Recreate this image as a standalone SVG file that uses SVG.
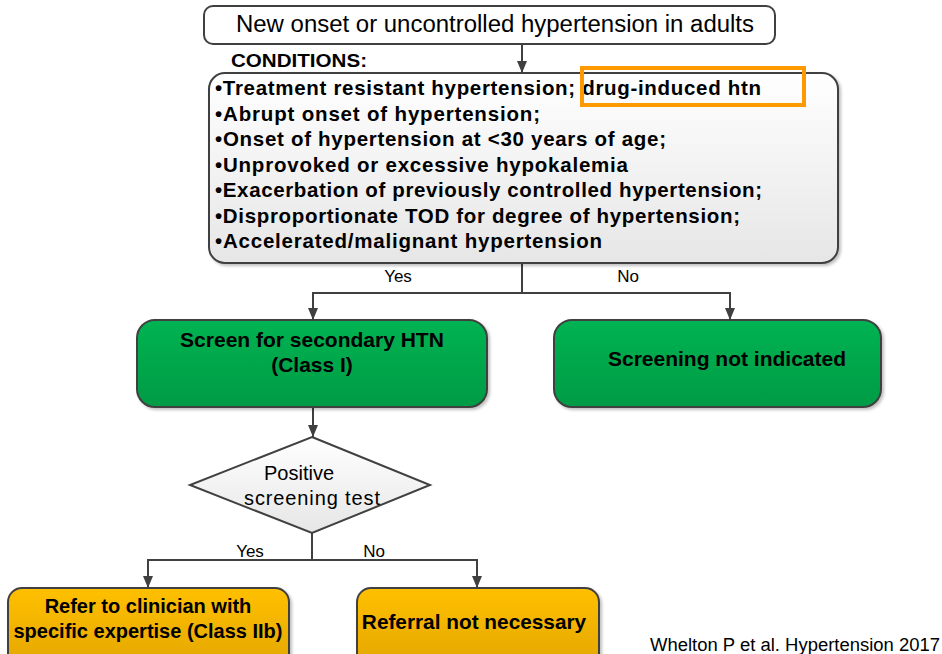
<svg xmlns="http://www.w3.org/2000/svg" width="942" height="654" viewBox="0 0 942 654">
  <defs>
    <linearGradient id="gGreen" x1="0" y1="0" x2="0" y2="1">
      <stop offset="0" stop-color="#00B352"/>
      <stop offset="1" stop-color="#009B45"/>
    </linearGradient>
    <linearGradient id="gOrange" x1="0" y1="0" x2="0" y2="1">
      <stop offset="0" stop-color="#FFC000"/>
      <stop offset="1" stop-color="#E3A600"/>
    </linearGradient>
    <linearGradient id="gGray" x1="0" y1="0" x2="0" y2="1">
      <stop offset="0" stop-color="#FFFFFF"/>
      <stop offset="1" stop-color="#E6E6E6"/>
    </linearGradient>
    <marker id="arrow" viewBox="0 0 12 10" refX="12" refY="5" markerWidth="12" markerHeight="10" markerUnits="userSpaceOnUse" orient="auto">
      <path d="M0,0 L12,5 L0,10 Z" fill="#404040"/>
    </marker>
    <filter id="shadow" x="-5%" y="-5%" width="115%" height="120%">
      <feDropShadow dx="2" dy="2" stdDeviation="1.5" flood-color="#000" flood-opacity="0.25"/>
    </filter>
  </defs>
  <style>
    .box { stroke: #404040; stroke-width: 2; }
    .conn { fill: none; stroke: #404040; stroke-width: 2; }
    .arr { marker-end: url(#arrow); }
    .t { font-family: "Liberation Sans", Arial, sans-serif; fill: #000; }
    .b { font-weight: bold; }
    .lbl { font-family: "Liberation Sans", Arial, sans-serif; font-size: 17px; fill: #000; }
  </style>
  <rect width="942" height="654" fill="#FFFFFF"/>

  <g id="connectors">
    <line class="conn arr" x1="522" y1="44" x2="522" y2="73"/>
    <polyline class="conn" points="522,263 522,293"/>
    <polyline class="conn arr" points="522,293 313,293 313,320"/>
    <polyline class="conn arr" points="522,293 730,293 730,320"/>
    <line class="conn arr" x1="313" y1="407" x2="313" y2="437"/>
    <line class="conn" x1="312" y1="533" x2="312" y2="560"/>
    <polyline class="conn arr" points="312,560 148,560 148,588"/>
    <polyline class="conn arr" points="312,560 477,560 477,588"/>
    <text class="lbl" x="398" y="282" text-anchor="middle">Yes</text>
    <text class="lbl" x="628" y="282" text-anchor="middle">No</text>
    <text class="lbl" x="250" y="557" text-anchor="middle">Yes</text>
    <text class="lbl" x="374" y="557" text-anchor="middle">No</text>
  </g>

  <g id="start">
    <rect class="box" x="204" y="6" width="571" height="38" rx="9" fill="#FFFFFF"/>
    <text class="t" x="495" y="32" font-size="23.5" text-anchor="middle" textLength="518" lengthAdjust="spacingAndGlyphs">New onset or uncontrolled hypertension in adults</text>
  </g>

  <g id="conditions">
    <text class="t b" x="231" y="67" font-size="19" textLength="136" lengthAdjust="spacingAndGlyphs">CONDITIONS:</text>
    <rect class="box" x="209" y="73" width="629" height="190" rx="16" fill="url(#gGray)" filter="url(#shadow)"/>
    <g class="t b" font-size="20.5">
      <text x="215" y="95" textLength="546" lengthAdjust="spacing">•Treatment resistant hypertension; drug-induced htn</text>
      <text x="215" y="120.5" textLength="325" lengthAdjust="spacing">•Abrupt onset of hypertension;</text>
      <text x="215" y="146" textLength="451" lengthAdjust="spacing">•Onset of hypertension at &lt;30 years of age;</text>
      <text x="215" y="171.5" textLength="413" lengthAdjust="spacing">•Unprovoked or excessive hypokalemia</text>
      <text x="215" y="197" textLength="547" lengthAdjust="spacing">•Exacerbation of previously controlled hypertension;</text>
      <text x="215" y="222.5" textLength="525" lengthAdjust="spacing">•Disproportionate TOD for degree of hypertension;</text>
      <text x="215" y="248" textLength="387" lengthAdjust="spacing">•Accelerated/malignant hypertension</text>
    </g>
    <rect x="582" y="68" width="222" height="37" fill="none" stroke="#FF9900" stroke-width="4"/>
  </g>

  <g id="screen">
    <rect class="box" x="137" y="320" width="350" height="87" rx="18" fill="url(#gGreen)" filter="url(#shadow)"/>
    <text class="t b" x="312" y="347" font-size="21" text-anchor="middle">Screen for secondary HTN</text>
    <text class="t b" x="312" y="372" font-size="21" text-anchor="middle">(Class I)</text>
  </g>

  <g id="not-indicated">
    <rect class="box" x="554" y="320" width="327" height="87" rx="18" fill="url(#gGreen)" filter="url(#shadow)"/>
    <text class="t b" x="727" y="366" font-size="21" text-anchor="middle">Screening not indicated</text>
  </g>

  <g id="decision">
    <polygon class="box" points="312,437 430,485 312,533 190,485" fill="url(#gGray)" stroke-width="1.5"/>
    <text class="t" x="299" y="480" font-size="20" text-anchor="middle">Positive</text>
    <text class="t" x="312" y="505" font-size="20" text-anchor="middle" textLength="136" lengthAdjust="spacing">screening test</text>
  </g>

  <g id="refer">
    <rect class="box" x="8" y="588" width="281" height="80" rx="14" fill="url(#gOrange)" filter="url(#shadow)"/>
    <text class="t b" x="148" y="613" font-size="20" text-anchor="middle">Refer to clinician with</text>
    <text class="t b" x="148" y="638" font-size="20" text-anchor="middle">specific expertise (Class IIb)</text>
  </g>

  <g id="no-referral">
    <rect class="box" x="357" y="588" width="242" height="80" rx="14" fill="url(#gOrange)" filter="url(#shadow)"/>
    <text class="t b" x="474" y="629" font-size="20.8" text-anchor="middle">Referral not necessary</text>
  </g>

  <g id="citation">
    <text class="t" x="650" y="651" font-size="18" textLength="290" lengthAdjust="spacingAndGlyphs">Whelton P et al. Hypertension 2017</text>
  </g>
</svg>
